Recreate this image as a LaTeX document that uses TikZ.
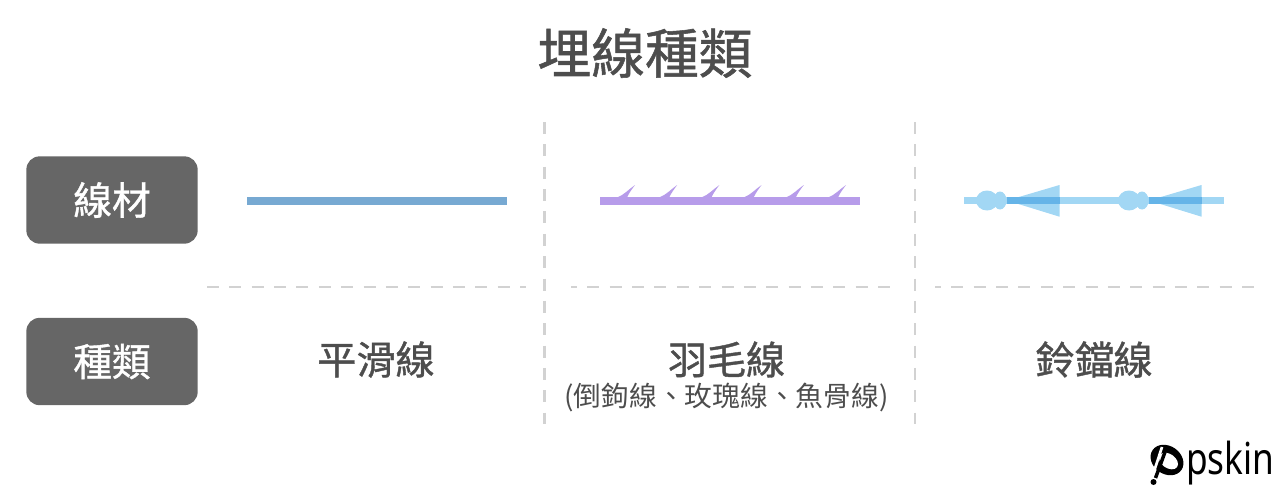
\documentclass[tikz,border=0pt]{standalone}
\usepackage{fontspec}
\newfontfamily\cjk{Noto Sans CJK TC}
\newfontfamily\cjkmed[FakeBold=1]{Noto Sans CJK TC}
\newfontfamily\logofont[FakeStretch=0.8]{Noto Sans}
\definecolor{inkgray}{HTML}{4D4D4D}
\definecolor{boxgray}{HTML}{666666}
\definecolor{sepgray}{HTML}{D2D2D2}
\definecolor{smoothblue}{HTML}{77A9D2}
\definecolor{barbpurple}{HTML}{B79CEA}
\definecolor{conelight}{HTML}{A2D7F4}
\definecolor{conedark}{HTML}{65B4E8}
\tikzset{
  rowbox/.style={fill=boxgray, rounded corners=10pt, minimum width=128.5pt, minimum height=65.5pt, text=white, font=\cjkmed\fontsize{29}{31}\selectfont},
  kindlabel/.style={text=inkgray, font=\cjkmed\fontsize{29.3}{31}\selectfont},
  seprule/.style={sepgray, line width=1.9pt, dash pattern=on 9pt off 7.77pt}
}
\begin{document}
\begin{tikzpicture}[x=0.75pt,y=-0.75pt]
\useasboundingbox (0,0) rectangle (1280,492);

\node[text=inkgray, font=\cjkmed\fontsize{40.3}{44}\selectfont] (title) at (645,53) {埋線種類};

\node[rowbox] (material) at (112,200) {線材};
\node[rowbox] (kind) at (112,361.5) {種類};

% separators
\draw[seprule] (207,287) -- (526,287);
\draw[seprule, dash phase=4.5pt] (571,287) -- (890,287);
\draw[seprule, dash phase=4.5pt] (935,287) -- (1254,287);
\draw[seprule] (544.5,122) -- (544.5,424);
\draw[seprule] (915,122) -- (915,424);

% smooth thread
\fill[smoothblue] (247,196.5) rectangle (507,204.5);

% barbed thread
\fill[barbpurple] (600,196.7) rectangle (860,204.7);
\foreach \tipx in {635,677.2,719.4,761.6,803.8,846} {
  \fill[barbpurple] (\tipx-18,197.5) .. controls (\tipx-11,195) and (\tipx-6,189) .. (\tipx,185) .. controls (\tipx-3,189) and (\tipx-6,193) .. (\tipx-8,197.5) -- cycle;
}

% cone thread
\fill[conelight] (964,196.7) rectangle (1224,204.3);
\foreach \conex in {1007,1149} {
  \fill[conelight] (\conex-20,200.5) ellipse (11 and 10);
  \fill[conelight] (\conex-7,200.5) ellipse (6.5 and 9);
  \fill[conelight] (\conex,200.5) -- (\conex+52.5,185) -- (\conex+52.5,216.7) -- cycle;
  \fill[conedark] (\conex,197) rectangle (\conex+52.5,204);
}

\node[kindlabel] (smooth) at (376,359.5) {平滑線};
\node[kindlabel] (barbed) at (726.5,359.5) {羽毛線};
\node[kindlabel] (cone) at (1094,359.5) {鈴鐺線};
\node[text=inkgray, font=\cjk\fontsize{20.8}{22}\selectfont] (barbednote) at (726.5,397.5) {(倒鉤線、玫瑰線、魚骨線)};

% logo
\node[text=black, font=\logofont\fontsize{33}{36}\selectfont, inner sep=0pt, anchor=base west] (logotext) at (1186,474) {pskin};
\fill[black, rotate around={-35:(1167,460)}] (1167,460) ellipse (17.5 and 14);
\fill[white, rotate around={-35:(1168.5,461)}] (1168.5,461) ellipse (10.5 and 7);
\fill[black] (1153.5,482) circle (3);
\draw[white, line width=2pt] (1152.5,476) -- (1162,447);
\draw[black, line width=2.6pt] (1155.5,478) -- (1165,452);
\end{tikzpicture}
\end{document}
